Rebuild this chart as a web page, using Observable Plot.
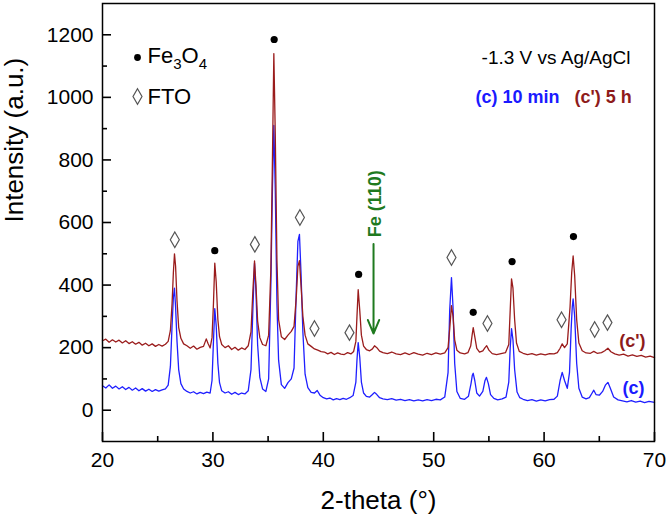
<!DOCTYPE html>
<html>
<head>
<meta charset="utf-8">
<script src="https://cdn.jsdelivr.net/npm/d3@7"></script>
<script src="https://cdn.jsdelivr.net/npm/@observablehq/plot@0.6"></script>
<style>
  html, body { margin: 0; padding: 0; background: #fff; }
</style>
</head>
<body>
<div id="chart"></div>
<script>
// ---- Data ----
// (c') 5 h pattern: [2-theta, intensity]
const seriesC5h = [[20.0,222],[20.3,227],[20.6,217],[20.9,225],[21.2,218],[21.5,224],[21.8,215],[22.1,222],[22.4,213],[22.7,219],[23.0,211],[23.3,217],[23.6,208],[23.9,214],[24.2,206],[24.5,212],[24.8,204],[25.1,210],[25.4,205],[25.7,211],[25.95,220],[26.15,255],[26.3,340],[26.42,440],[26.52,500],[26.62,460],[26.75,350],[26.9,265],[27.1,230],[27.35,212],[27.65,206],[27.95,198],[28.25,205],[28.55,195],[28.85,201],[29.15,204],[29.4,228],[29.55,214],[29.75,199],[29.92,232],[30.05,340],[30.17,470],[30.3,410],[30.45,290],[30.6,235],[30.8,210],[31.1,200],[31.4,206],[31.7,194],[32.0,201],[32.3,192],[32.6,199],[32.9,194],[33.2,206],[33.45,250],[33.62,380],[33.77,477],[33.9,400],[34.05,285],[34.25,232],[34.5,210],[34.8,206],[35.05,240],[35.25,450],[35.4,820],[35.52,1140],[35.65,880],[35.8,480],[35.95,290],[36.2,235],[36.5,226],[36.8,240],[37.1,252],[37.35,268],[37.55,360],[37.7,460],[37.84,478],[37.98,400],[38.15,300],[38.35,240],[38.6,212],[38.9,204],[39.2,196],[39.5,192],[39.8,187],[40.1,186],[40.4,180],[40.7,185],[41.0,178],[41.3,183],[41.6,179],[41.9,178],[42.2,184],[42.5,180],[42.75,188],[42.95,220],[43.05,300],[43.16,385],[43.3,320],[43.45,240],[43.65,205],[43.9,194],[44.2,190],[44.45,196],[44.64,206],[44.85,200],[45.1,189],[45.4,184],[45.8,181],[46.2,186],[46.6,180],[47.0,178],[47.4,183],[47.8,178],[48.2,184],[48.6,179],[49.0,176],[49.4,182],[49.8,178],[50.2,183],[50.6,179],[51.0,183],[51.3,200],[51.45,260],[51.61,334],[51.75,300],[51.9,225],[52.1,192],[52.4,183],[52.8,180],[53.1,184],[53.35,205],[53.48,240],[53.58,264],[53.72,235],[53.9,198],[54.15,186],[54.45,190],[54.65,200],[54.8,206],[55.0,192],[55.3,181],[55.7,178],[56.1,181],[56.5,184],[56.8,210],[56.93,320],[57.05,420],[57.18,390],[57.33,290],[57.5,215],[57.75,188],[58.1,182],[58.5,178],[58.9,181],[59.3,176],[59.7,180],[60.1,177],[60.5,181],[60.9,180],[61.2,184],[61.45,198],[61.64,212],[61.85,200],[62.1,212],[62.35,330],[62.5,440],[62.63,493],[62.77,430],[62.95,290],[63.15,215],[63.45,190],[63.8,183],[64.2,182],[64.5,188],[64.8,182],[65.2,184],[65.5,190],[65.78,198],[66.05,187],[66.4,180],[66.8,176],[67.2,179],[67.6,173],[68.0,177],[68.4,172],[68.8,175],[69.2,170],[69.6,173],[70.0,168]];

// (c) 10 min pattern: [2-theta, intensity]
const seriesC10min = [[20.0,78],[20.3,71],[20.6,81],[20.9,70],[21.2,77],[21.5,68],[21.8,75],[22.1,66],[22.4,73],[22.7,64],[23.0,71],[23.3,62],[23.6,69],[23.9,61],[24.2,67],[24.5,60],[24.8,66],[25.1,61],[25.4,65],[25.7,68],[25.95,80],[26.15,140],[26.3,270],[26.42,360],[26.52,390],[26.62,330],[26.75,220],[26.9,130],[27.1,85],[27.35,68],[27.65,60],[27.95,55],[28.25,59],[28.55,52],[28.85,57],[29.15,53],[29.45,58],[29.75,55],[29.92,95],[30.05,220],[30.17,325],[30.3,270],[30.45,150],[30.6,88],[30.8,62],[31.1,55],[31.4,59],[31.7,51],[32.0,57],[32.3,50],[32.6,55],[32.9,52],[33.2,62],[33.45,130],[33.62,320],[33.77,470],[33.9,380],[34.05,210],[34.25,105],[34.5,68],[34.8,60],[35.05,100],[35.25,400],[35.4,720],[35.52,910],[35.65,700],[35.8,340],[35.95,160],[36.2,82],[36.5,70],[36.8,88],[37.1,100],[37.35,135],[37.55,380],[37.7,540],[37.84,562],[37.98,440],[38.15,250],[38.35,115],[38.6,72],[38.9,57],[39.2,55],[39.45,63],[39.7,48],[40.0,40],[40.3,36],[40.6,39],[40.9,33],[41.2,37],[41.5,34],[41.8,38],[42.1,35],[42.4,40],[42.7,47],[42.95,90],[43.05,160],[43.16,216],[43.3,170],[43.45,90],[43.65,55],[43.9,44],[44.2,42],[44.45,50],[44.64,57],[44.85,50],[45.1,40],[45.4,36],[45.8,34],[46.2,37],[46.6,32],[47.0,35],[47.4,31],[47.8,34],[48.2,30],[48.6,33],[49.0,30],[49.4,34],[49.8,31],[50.2,35],[50.6,33],[51.0,42],[51.3,120],[51.45,320],[51.61,424],[51.75,330],[51.9,150],[52.1,60],[52.4,38],[52.8,35],[53.15,45],[53.38,85],[53.5,112],[53.58,118],[53.72,95],[53.9,55],[54.15,45],[54.45,60],[54.65,95],[54.78,105],[54.95,85],[55.15,50],[55.45,38],[55.8,33],[56.2,36],[56.55,42],[56.8,90],[56.93,200],[57.05,261],[57.18,225],[57.33,130],[57.55,58],[57.8,40],[58.1,35],[58.5,31],[58.9,34],[59.3,29],[59.7,33],[60.1,30],[60.5,34],[60.9,35],[61.2,45],[61.45,95],[61.64,121],[61.85,95],[62.1,70],[62.3,120],[62.45,260],[62.55,330],[62.63,356],[62.77,300],[62.95,150],[63.15,70],[63.45,42],[63.8,36],[64.1,40],[64.35,55],[64.5,64],[64.7,50],[65.0,48],[65.3,60],[65.55,80],[65.78,89],[66.0,70],[66.3,42],[66.7,33],[67.1,30],[67.5,27],[67.9,31],[68.3,26],[68.7,29],[69.1,24],[69.5,28],[70.0,25]];

// Peak markers
const fe3o4Markers = [[30.17,510],[35.55,1185],[43.2,434],[53.58,313],[57.1,475],[62.66,555]];
const ftoMarkers = [[26.55,545],[33.8,530],[37.88,616],[39.2,261],[42.37,248],[51.61,488],[54.87,277],[61.58,289],[64.58,258],[65.74,280]];

// Annotation: Fe (110)
const feLabel = {text: "Fe (110)", x: 44.55, y: 660};
const feArrow = {x: 44.55, from: 531, to: 245};

// Curve labels
const curveLabels = [
  {text: "(c')", x: 68.0, y: 220, color: "#8e1b1b"},
  {text: "(c)", x: 68.1, y: 69, color: "#1a1aff"}
];

// Axis ticks
const xMajor = [20, 30, 40, 50, 60, 70];
const xMinor = [25, 35, 45, 55, 65];
const yMajor = [0, 200, 400, 600, 800, 1000, 1200];
const yMinor = [100, 300, 500, 700, 900, 1100];

// ---- Chart ----
const FONT = "'Liberation Sans', Arial, sans-serif";
const red = "#9a1c1c";
const blue = "#1f1fff";
const tickColor = "#000";

const W = 667, H = 516, ML = 102, MR = 13, MT = 3, MB = 75;
const xDomain = [20, 70], yDomain = [-100, 1300];

const lozenge = {
  draw(context, size) {
    const r = Math.sqrt(size / Math.PI);
    const hw = r * 0.9, hh = r * 1.55;
    context.moveTo(0, -hh);
    context.lineTo(hw, 0);
    context.lineTo(0, hh);
    context.lineTo(-hw, 0);
    context.closePath();
  }
};

const plot = Plot.plot({
  width: W,
  height: H,
  marginLeft: ML,
  marginRight: MR,
  marginTop: MT,
  marginBottom: MB,
  style: {fontFamily: FONT, background: "#fff", overflow: "visible"},
  x: {domain: xDomain},
  y: {domain: yDomain},
  marks: [
    // data
    Plot.line(seriesC10min, {x: d => d[0], y: d => d[1], stroke: blue, strokeWidth: 1.3}),
    Plot.line(seriesC5h, {x: d => d[0], y: d => d[1], stroke: red, strokeWidth: 1.3}),
    // inward tick marks (axis marks with negative tick size)
    Plot.axisX({ticks: xMinor, tickSize: -5, tickFormat: () => "", stroke: tickColor, strokeWidth: 1.6, label: null}),
    Plot.axisX({ticks: xMajor, tickSize: -9, tickFormat: () => "", stroke: tickColor, strokeWidth: 1.6, label: null}),
    Plot.axisY({ticks: yMinor, tickSize: -5, tickFormat: () => "", stroke: tickColor, strokeWidth: 1.6, label: null}),
    Plot.axisY({ticks: yMajor, tickSize: -9, tickFormat: () => "", stroke: tickColor, strokeWidth: 1.6, label: null}),
    // tick labels
    Plot.axisX({ticks: xMajor, tickSize: 0, tickPadding: 11, fontSize: 21, tickFormat: d => String(d), label: null}),
    Plot.axisY({ticks: yMajor, tickSize: 0, tickPadding: 9, fontSize: 21, tickFormat: d => String(d), label: null}),
    // axis titles
    Plot.text(["2-theta (°)"], {frameAnchor: "bottom", dy: 59, fontSize: 26, lineAnchor: "middle"}),
    Plot.text(["Intensity (a.u.)"], {frameAnchor: "left", dx: -88, rotate: -90, fontSize: 26, lineAnchor: "middle"}),
    // markers
    Plot.dot(fe3o4Markers, {x: d => d[0], y: d => d[1], r: 3.6, fill: "#000", stroke: "none"}),
    Plot.dot(ftoMarkers, {x: d => d[0], y: d => d[1], r: 5, symbol: lozenge, fill: "#fff", stroke: "#555", strokeWidth: 1.2}),
    // Fe (110) annotation
    Plot.arrow([feArrow], {x1: d => d.x, x2: d => d.x, y1: d => d.from, y2: d => d.to, stroke: "#1f7a1f", strokeWidth: 2, headLength: 11, headAngle: 45}),
    Plot.text([feLabel], {x: d => d.x, y: d => d.y, text: d => d.text, rotate: -90, dx: 2, fontSize: 18, fontWeight: "bold", fill: "#1f7a1f", lineAnchor: "middle"}),
    // curve labels
    Plot.text(curveLabels, {x: d => d.x, y: d => d.y, text: d => d.text, fill: d => d.color, fontSize: 18, fontWeight: "bold", lineAnchor: "middle"}),
    // legend (top-left)
    Plot.dot([0], {frameAnchor: "top-left", dx: 35, dy: 54, r: 3.4, fill: "#000"}),
    Plot.text(["Fe3O4"], {frameAnchor: "top-left", dx: 45, dy: 52, fontSize: 22, textAnchor: "start", lineAnchor: "middle"}),
    Plot.dot([0], {frameAnchor: "top-left", dx: 35, dy: 93, r: 5, symbol: lozenge, fill: "#fff", stroke: "#555", strokeWidth: 1.2}),
    Plot.text(["FTO"], {frameAnchor: "top-left", dx: 45, dy: 93, fontSize: 22, textAnchor: "start", lineAnchor: "middle"}),
    // top-right notes
    Plot.text(["-1.3 V vs Ag/AgCl"], {frameAnchor: "top-right", dx: -24, dy: 54, fontSize: 19, textAnchor: "end", lineAnchor: "middle"}),
    Plot.text(["(c) 10 min"], {frameAnchor: "top-right", dx: -179, dy: 94, fontSize: 18, fontWeight: "bold", fill: "#1a1aff", textAnchor: "start", lineAnchor: "middle"}),
    Plot.text(["(c') 5 h"], {frameAnchor: "top-right", dx: -80, dy: 94, fontSize: 18, fontWeight: "bold", fill: "#8e1b1b", textAnchor: "start", lineAnchor: "middle"}),
    // frame
    Plot.frame({stroke: "#000", strokeWidth: 1.5})
  ]
});

// subscripts for Fe3O4
d3.select(plot).selectAll("text").each(function() {
  if (this.textContent === "Fe3O4") {
    const t = d3.select(this);
    t.text(null);
    t.append("tspan").text("Fe");
    t.append("tspan").attr("dy", 6).attr("font-size", 15).text("3");
    t.append("tspan").attr("dy", -6).text("O");
    t.append("tspan").attr("dy", 6).attr("font-size", 15).text("4");
  }
});

document.getElementById("chart").append(plot);
</script>
</body>
</html>
